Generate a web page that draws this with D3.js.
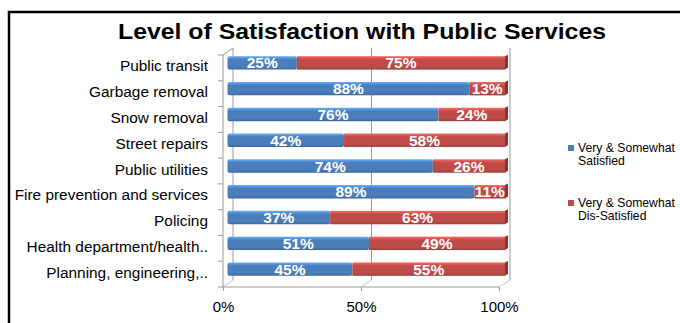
<!DOCTYPE html>
<html><head><meta charset="utf-8">
<script src="https://cdn.jsdelivr.net/npm/d3@7"></script>
<style>body{margin:0;background:#fff}svg{display:block}</style>
</head><body>
<svg id="c" width="680" height="323"></svg>
<script>
const categories = ["Public transit","Garbage removal","Snow removal","Street repairs","Public utilities","Fire prevention and services","Policing","Health department/health..","Planning, engineering,.."];
const satisfied = [25,88,76,42,74,89,37,51,45];
const dissatisfied = [75,13,24,58,26,11,63,49,55];
const seriesNames = [["Very & Somewhat","Satisfied"],["Very & Somewhat","Dis-Satisfied"]];
const xTicks = [0,0.5,1];
const colors = ["#4A7EBB","#BE4B48"];
const sideColors = ["#2F5A8C","#8C3230"];

const svg = d3.select("#c");
const font = "Liberation Sans, Arial, sans-serif";
svg.append("rect").attr("x",9).attr("y",12).attr("width",800).attr("height",400)
  .attr("fill","none").attr("stroke","#000").attr("stroke-width",2.5);
svg.append("text").attr("x",362).attr("y",39).attr("text-anchor","middle")
  .attr("font-family",font).attr("font-weight","bold").attr("font-size",22)
  .attr("textLength",488).attr("lengthAdjust","spacingAndGlyphs")
  .text("Level of Satisfaction with Public Services");

const dy = 7;
const y = d3.scaleBand().domain(categories).range([48,280]).paddingInner(0.48).paddingOuter(0.24);
const yb = d3.scaleBand().domain(categories).range([48,280]);
const xBack = d3.scaleLinear().domain([0,1]).range([233,510]);
const xFront = d3.scaleLinear().domain([0,1]).range([223,499]);
const xBar = d3.scaleLinear().domain([0,1]).range([227.5,505]);
const grid = "#9a9a9a";

const g = svg.append("g");
xTicks.forEach(t=>{
  g.append("line").attr("x1",xBack(t)).attr("x2",xBack(t)).attr("y1",48).attr("y2",280)
   .attr("stroke",grid).attr("stroke-width",1);
  g.append("line").attr("x1",xFront(t)).attr("y1",287).attr("x2",xBack(t)).attr("y2",280)
   .attr("stroke","#c8c8c8").attr("stroke-width",1);
});
g.append("line").attr("x1",xFront(0)).attr("x2",xFront(0)).attr("y1",55).attr("y2",287).attr("stroke",grid);
g.append("line").attr("x1",xFront(0)).attr("y1",55).attr("x2",xBack(0)).attr("y2",48).attr("stroke",grid);
categories.forEach((c,i)=>{
  const yy = yb(c)+dy;
  g.append("line").attr("x1",xFront(0)-5).attr("x2",xFront(0)).attr("y1",yy).attr("y2",yy).attr("stroke",grid);
});
g.append("line").attr("x1",xFront(0)-5).attr("x2",xFront(0)).attr("y1",287).attr("y2",287).attr("stroke",grid);
g.append("line").attr("x1",xFront(0)).attr("x2",xFront(1)).attr("y1",287).attr("y2",287).attr("stroke",grid);

const ax = svg.append("g").attr("transform","translate(0,287)")
  .call(d3.axisBottom(xFront).tickValues(xTicks).tickFormat(d3.format(".0%")).tickSize(4).tickPadding(10));
ax.select(".domain").remove();
ax.selectAll("line").attr("stroke",grid);
ax.selectAll("text").attr("font-family",font).attr("font-size",15).attr("fill","#000");

const defs = svg.append("defs");
colors.forEach((col,i)=>{
  const gr = defs.append("linearGradient").attr("id","gr"+i).attr("x1",0).attr("x2",0).attr("y1",0).attr("y2",1);
  gr.append("stop").attr("offset","0").attr("stop-color",d3.color(col).brighter(0.9));
  gr.append("stop").attr("offset","0.25").attr("stop-color",col);
  gr.append("stop").attr("offset","0.8").attr("stop-color",col);
  gr.append("stop").attr("offset","1").attr("stop-color",d3.color(col).darker(0.6));
});

const bars = svg.append("g");
categories.forEach((c,i)=>{
  const tot = satisfied[i]+dissatisfied[i];
  const segs = [[0,satisfied[i]/tot,satisfied[i]],[satisfied[i]/tot,1,dissatisfied[i]]];
  const y0 = y(c)+2, h = y.bandwidth();
  segs.forEach((s,k)=>{
    const x0 = xBar(s[0]), x1 = xBar(s[1]);
    bars.append("rect").attr("x",x0).attr("y",y0).attr("width",x1-x0).attr("height",h)
      .attr("fill","url(#gr"+k+")").attr("rx",k===0?2:0);
    if(k===1){
      bars.append("path").attr("d",`M${x1},${y0} L${x1+3},${y0-1.5} L${x1+3},${y0+h-2} L${x1},${y0+h} Z`)
        .attr("fill",sideColors[k]);
    }
    bars.append("text").attr("x",(x0+x1)/2).attr("y",y0+h/2).attr("dy","0.36em")
      .attr("text-anchor","middle").attr("fill","#fff").attr("font-family",font)
      .attr("font-weight","bold").attr("font-size",15.5).text(s[2]+"%");
  });
  svg.append("text").attr("x",208).attr("y",y0+h/2+3).attr("dy","0.36em").attr("text-anchor","end")
    .attr("font-family",font).attr("font-size",15.4).attr("fill","#000").text(c);
});

const leg = svg.append("g");
[148,203].forEach((ly,i)=>{
  leg.append("rect").attr("x",568).attr("y",ly-3).attr("width",6).attr("height",6).attr("fill",colors[i]);
  seriesNames[i].forEach((t,j)=>{
    leg.append("text").attr("x",578).attr("y",ly+j*12.5).attr("dy","0.36em")
      .attr("font-family",font).attr("font-size",12.2).attr("fill","#000").text(t);
  });
});
</script>
</body></html>
